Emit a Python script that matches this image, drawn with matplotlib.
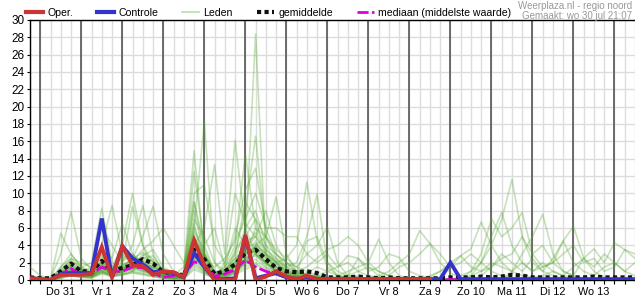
import numpy as np
import matplotlib
matplotlib.use('Agg')
import matplotlib.pyplot as plt
from matplotlib.lines import Line2D

plt.rcParams['font.family'] = ['Liberation Sans', 'DejaVu Sans']

# 6-hourly steps, first point is Wo 30 18:00, day 0 = Do 31 00:00
n_steps = 60
step_days = 0.25
start_day = -0.25

day_labels = ["Do 31", "Vr 1", "Za 2", "Zo 3", "Ma 4", "Di 5", "Wo 6",
              "Do 7", "Vr 8", "Za 9", "Zo 10", "Ma 11", "Di 12", "Wo 13"]

# operational run (ends earlier than the ensemble)
oper = [0.2, 0.1, 0.0, 0.6, 0.6, 0.6, 0.7, 3.8, 0.3, 3.9,
        1.7, 1.6, 0.6, 1.0, 0.9, 0.3, 4.6, 1.7, 0.0, 0.0,
        0.0, 5.2, 0.0, 0.4, 1.0, 0.4, 0.1, 0.5, 0.1, 0.1,
        0.1, 0.1, 0.1, 0.1, 0.1, 0.1, 0.1, 0.1, 0.1, 0.1]

controle = [0.2, 0.1, 0.0, 0.7, 0.8, 0.8, 0.8, 7.1, 0.3, 3.9,
            2.5, 1.8, 0.9, 1.0, 0.8, 0.3, 3.1, 1.5, 0.1, 0.1,
            0.2, 5.0, 0.2, 0.5, 0.8, 0.3, 0.1, 0.3, 0.1, 0.1,
            0.1, 0.1, 0.1, 0.1, 0.1, 0.1, 0.1, 0.1, 0.1, 0.1,
            0.1, 2.0, 0.1, 0.1, 0.1, 0.1, 0.1, 0.1, 0.1, 0.1,
            0.1, 0.1, 0.1, 0.1, 0.1, 0.1, 0.1, 0.1, 0.1, 0.1]

gemiddelde = [0.3, 0.2, 0.2, 1.0, 1.9, 1.0, 1.0, 2.2, 1.0, 1.4,
              1.7, 2.4, 1.9, 0.9, 0.8, 0.5, 3.5, 2.4, 0.7, 1.0,
              1.8, 3.1, 3.5, 2.4, 1.4, 1.0, 0.9, 1.0, 0.8, 0.3,
              0.3, 0.3, 0.4, 0.3, 0.2, 0.3, 0.2, 0.2, 0.2, 0.2,
              0.2, 0.3, 0.3, 0.3, 0.4, 0.3, 0.4, 0.6, 0.5, 0.3,
              0.3, 0.3, 0.3, 0.3, 0.3, 0.4, 0.3, 0.3, 0.3, 0.3]

mediaan = [0.1, 0.0, 0.0, 0.65, 1.3, 0.6, 0.7, 1.5, 1.0, 1.0,
           1.5, 1.4, 0.8, 0.3, 0.5, 0.6, 2.1, 1.8, 0.4, 0.7,
           1.2, 2.3, 1.5, 1.0, 0.7, 0.3, 0.2, 0.3, 0.1, 0.05,
           0.05, 0.05, 0.05, 0.05, 0.05, 0.05, 0.05, 0.05, 0.05, 0.05,
           0.05, 0.05, 0.05, 0.05, 0.05, 0.05, 0.05, 0.05, 0.05, 0.05,
           0.05, 0.05, 0.05, 0.05, 0.05, 0.05, 0.05, 0.05, 0.05, 0.05]

# ensemble members (Leden), read off roughly
leden = [
    [0.0,0.0,0.0,0.4,1.2,0.5,0.3,1.5,0.8,1.2, 2.0,1.5,0.6,0.3,0.2,0.1,2.5,1.0,0.3,0.8,
     2.0,4.5,28.4,3.0,1.0,0.5,0.2,0.4,0.1,0.0, 0.0,0.0,0.1,0.0,0.0,0.0,0.0,0.0,0.0,0.0,
     0.0,0.0,0.0,0.0,0.1,0.0,0.0,0.0,0.0,0.0, 0.0,0.0,0.0,0.0,0.0,0.0,0.0,0.0,0.0,0.0],
    [0.1,0.0,0.0,0.8,2.0,1.0,0.5,2.5,1.2,0.8, 1.5,3.0,2.0,0.5,0.3,0.5,6.0,18.3,2.0,0.5,
     1.0,2.5,3.5,2.0,1.0,0.5,0.3,0.5,0.2,0.1, 0.0,0.2,0.5,0.0,0.0,0.0,0.0,0.0,0.0,0.0,
     0.0,0.0,0.3,0.0,0.0,0.0,0.0,0.0,0.2,0.0, 0.0,0.0,0.0,0.0,0.0,0.0,0.0,0.0,0.0,0.0],
    [0.3,0.1,0.0,1.5,3.0,1.5,0.8,1.8,0.5,1.0, 1.8,2.0,1.0,0.4,0.2,1.0,14.9,3.0,0.5,0.3,
     0.8,2.0,4.0,3.0,1.5,1.0,0.5,0.3,0.2,0.0, 0.0,0.0,0.0,0.0,0.0,0.0,0.0,0.0,0.0,0.0,
     0.0,0.0,0.0,0.0,0.0,0.0,0.0,0.0,0.0,0.0, 0.0,0.0,0.0,0.0,0.0,0.0,0.0,0.0,0.0,0.0],
    [0.0,0.0,0.1,0.5,1.0,0.8,1.0,2.0,1.5,2.5, 3.0,1.5,0.8,0.5,0.5,0.8,4.0,6.0,13.3,3.0,
     16.1,6.0,3.0,2.0,1.5,0.8,0.5,0.3,0.2,0.0, 0.0,0.0,0.0,0.0,0.2,0.0,0.0,0.0,0.0,0.0,
     0.0,0.0,0.0,0.0,0.0,0.0,0.0,0.0,0.0,0.0, 0.0,0.0,0.0,0.0,0.0,0.0,0.0,0.0,0.0,0.0],
    [0.2,0.0,0.0,0.3,0.8,0.4,0.6,1.2,1.0,1.5, 1.2,2.5,2.8,1.0,0.6,0.3,3.0,2.0,0.5,1.5,
     4.0,14.6,6.0,4.0,2.0,1.0,0.6,0.8,0.3,0.1, 0.0,0.0,0.0,0.0,0.0,0.0,0.0,0.0,0.0,0.0,
     0.0,0.0,0.0,0.0,0.0,0.0,0.0,0.0,0.0,0.0, 0.0,0.0,0.0,0.0,0.0,0.0,0.0,0.0,0.0,0.0],
    [0.0,0.0,0.0,0.6,1.5,0.6,0.4,2.8,0.6,1.8, 2.2,1.8,1.5,0.8,0.4,0.6,12.5,4.0,1.0,0.6,
     3.0,8.0,16.6,5.0,2.5,1.2,0.8,0.5,0.3,0.1, 0.0,0.0,0.0,0.0,0.0,0.0,0.0,0.0,0.0,0.0,
     0.0,0.0,0.0,0.0,0.0,0.0,0.0,0.0,0.0,0.0, 0.0,0.0,0.0,0.0,0.0,0.0,0.0,0.0,0.0,0.0],
    [0.1,0.0,0.0,1.0,2.5,1.2,0.8,1.0,0.4,0.6, 1.0,2.8,3.5,1.5,0.8,0.4,8.0,2.5,0.3,2.0,
     5.0,10.4,12.9,6.0,3.0,2.0,1.0,0.6,0.4,0.2, 0.0,0.0,0.0,0.0,0.0,0.0,0.0,0.0,0.0,0.0,
     0.0,0.0,0.0,0.0,0.0,0.0,0.0,0.0,0.0,0.0, 0.0,0.0,0.0,0.0,0.0,0.0,0.0,0.0,0.0,0.0],
    [0.0,0.0,0.0,0.5,1.0,0.5,0.8,3.0,1.5,4.0, 10.0,4.0,1.0,0.5,0.3,0.2,5.0,3.0,1.0,1.0,
     2.0,3.0,6.0,5.0,9.6,3.0,1.0,0.5,0.3,0.1, 0.0,0.0,0.0,0.0,0.0,0.0,0.0,0.0,0.0,0.0,
     0.0,0.0,0.0,0.0,0.0,0.0,0.0,0.0,0.0,0.0, 0.0,0.0,0.0,0.0,0.0,0.0,0.0,0.0,0.0,0.0],
    [0.2,0.1,0.0,0.8,1.8,0.8,0.5,1.5,0.8,2.0, 4.0,8.6,3.0,1.0,0.5,0.3,6.5,2.0,0.5,0.8,
     1.5,3.5,5.0,3.0,2.0,2.5,4.0,11.3,4.5,1.5, 0.5,0.3,0.2,0.0,0.0,0.0,0.0,0.0,0.0,0.0,
     0.0,0.0,0.0,0.0,0.0,0.0,0.0,0.0,0.0,0.0, 0.0,0.0,0.0,0.0,0.0,0.0,0.0,0.0,0.0,0.0],
    [0.0,0.0,0.0,0.4,1.5,1.0,0.8,2.0,1.0,1.5, 2.5,5.0,8.5,3.0,1.0,0.5,9.0,3.0,0.8,0.5,
     1.0,2.0,4.0,5.0,3.0,1.5,2.0,5.0,9.9,2.0, 0.5,0.2,0.0,0.0,0.0,0.0,0.0,0.0,0.0,0.0,
     0.0,0.0,0.0,0.0,0.0,0.0,0.0,0.0,0.0,0.0, 0.0,0.0,0.0,0.0,0.0,0.0,0.0,0.0,0.0,0.0],
    [1.5,0.5,0.2,3.0,7.9,2.5,1.2,2.0,0.8,1.0, 1.5,1.0,0.8,0.5,0.3,0.6,7.0,5.0,2.0,1.0,
     2.5,6.0,8.0,4.0,3.0,2.0,1.5,3.0,4.0,6.1, 2.0,0.5,0.2,0.0,0.0,0.0,0.0,0.0,0.0,0.0,
     0.0,0.0,0.0,0.0,0.0,0.0,0.0,0.0,0.0,0.0, 0.0,0.0,0.0,0.0,0.0,0.0,0.0,0.0,0.0,0.0],
    [0.4,0.2,0.0,1.2,2.2,1.5,2.0,8.3,2.0,1.5, 1.0,2.0,1.5,0.8,0.5,0.8,5.5,3.5,1.0,0.8,
     3.5,5.0,7.0,3.0,2.0,1.0,0.5,0.3,0.5,0.2, 0.5,1.0,1.5,2.0,4.7,2.0,0.5,0.2,0.0,0.0,
     0.0,0.0,0.0,0.0,0.0,0.0,0.0,0.0,0.0,0.0, 0.0,0.0,0.0,0.0,0.0,0.0,0.0,0.0,0.0,0.0],
    [0.0,0.0,0.0,0.6,1.2,0.8,1.5,4.0,8.6,3.0, 2.0,1.5,1.0,0.6,0.3,0.5,4.0,2.0,0.5,1.5,
     6.0,4.0,3.0,2.0,1.0,0.5,0.3,0.2,0.1,0.0, 0.0,0.0,0.0,0.2,0.5,1.0,2.0,3.0,5.7,4.2,
     2.0,0.8,0.3,0.0,0.0,0.0,0.0,0.0,0.0,0.0, 0.0,0.0,0.0,0.0,0.0,0.0,0.0,0.0,0.0,0.0],
    [0.1,0.0,0.0,0.3,0.6,0.4,0.3,1.0,0.6,0.8, 1.2,1.0,0.6,0.3,0.2,0.2,2.0,1.0,0.3,0.4,
     1.0,2.0,3.0,1.5,1.0,0.5,0.3,0.2,0.1,0.0, 0.0,0.0,0.0,0.0,0.0,0.0,0.0,0.0,0.0,0.0,
     0.0,0.0,0.5,1.0,2.0,4.0,7.0,11.6,5.0,2.0, 1.0,0.5,0.2,0.0,0.0,0.0,0.0,0.0,0.0,0.0],
    [0.0,0.0,0.0,0.5,0.8,0.6,0.5,1.2,0.8,1.0, 1.5,1.2,0.8,0.4,0.3,0.3,3.0,1.5,0.5,0.6,
     1.5,3.0,4.0,2.0,1.2,0.6,0.4,0.3,0.2,0.1, 0.0,0.0,0.0,0.0,0.0,0.0,0.0,0.0,0.0,0.5,
     1.0,1.5,2.8,3.6,6.7,4.0,2.0,1.0,3.0,5.0, 7.6,3.0,1.0,0.5,0.2,0.0,0.0,0.0,0.0,0.0],
    [0.2,0.0,0.0,0.7,1.4,0.7,0.6,1.6,1.2,2.2, 2.8,2.2,1.2,0.6,0.4,0.4,4.5,2.5,0.6,1.2,
     2.5,3.5,5.5,3.5,2.0,1.2,0.7,0.5,0.3,0.1, 0.0,0.0,0.0,0.0,0.0,0.0,0.0,0.0,0.0,0.0,
     0.0,0.0,0.0,1.0,3.0,7.1,5.0,6.0,7.8,3.0, 1.5,2.0,4.5,6.2,2.5,1.0,0.3,0.0,0.0,0.0],
    [0.0,0.0,0.0,0.2,0.5,0.3,0.2,0.8,0.5,0.6, 0.8,0.6,0.4,0.2,0.1,0.1,1.5,0.8,0.2,0.3,
     0.8,1.5,2.0,1.2,0.8,0.4,0.2,0.1,0.0,0.0, 0.0,0.0,0.0,0.0,0.0,0.0,0.0,0.0,0.0,0.0,
     0.0,0.0,0.0,0.5,2.0,5.0,7.8,4.0,2.0,1.0, 2.0,1.0,0.5,1.5,2.5,3.6,2.0,4.3,3.5,2.5],
    [0.0,0.0,0.0,0.4,0.9,0.6,0.4,1.0,0.7,1.2, 1.8,1.4,0.9,0.5,0.2,0.3,3.5,2.0,0.4,0.7,
     1.8,2.8,3.5,2.5,1.5,0.8,0.5,0.8,1.5,1.0, 1.5,2.8,2.5,1.0,1.5,3.0,2.6,1.0,0.5,0.3,
     1.0,2.0,2.8,1.5,1.0,2.0,1.5,1.0,0.5,0.3, 0.5,1.0,0.5,0.3,0.2,0.0,0.0,0.0,0.0,0.0],
    [0.1,0.0,0.0,0.9,2.0,1.2,0.9,1.8,1.0,1.6, 2.2,3.5,4.5,6.0,4.0,2.0,5.0,2.5,0.8,1.0,
     2.0,4.5,5.0,3.5,2.5,1.5,0.8,0.6,0.4,0.2, 0.0,0.0,0.0,0.0,0.0,0.0,0.0,0.0,0.0,0.0,
     0.0,0.0,0.0,0.0,0.0,0.0,0.0,0.0,0.0,0.0, 0.0,0.0,0.0,0.0,0.0,0.0,0.0,0.0,0.0,0.0],
    [0.5,0.2,0.1,5.4,3.0,1.5,1.0,3.5,2.5,6.5, 3.0,2.0,1.5,1.0,0.6,0.5,3.5,2.0,0.5,0.5,
     1.2,2.5,3.0,2.0,1.0,0.6,0.4,0.3,0.2,0.1, 0.3,0.5,0.3,0.1,0.0,0.0,0.0,0.0,0.0,0.0,
     0.0,0.0,0.0,0.0,0.0,0.0,0.0,0.0,0.0,0.0, 0.0,0.0,0.0,0.0,0.0,0.0,0.0,0.0,0.0,0.0],
    [0.0,0.0,0.0,0.3,0.7,0.5,0.4,0.9,0.6,0.9, 1.4,1.1,0.7,0.4,0.3,0.3,2.5,1.2,0.4,0.5,
     1.2,2.2,2.8,1.8,1.0,0.5,0.3,0.2,0.1,0.0, 0.0,0.0,0.0,0.0,0.0,0.0,0.0,0.0,0.0,0.0,
     0.0,0.0,0.0,0.0,0.5,1.5,3.0,2.0,1.0,2.5, 1.0,2.5,4.5,2.0,1.0,0.5,1.5,2.0,1.0,0.5],
    [0.0,0.0,0.0,1.5,2.5,2.0,1.5,6.0,4.0,2.0, 8.5,4.0,2.0,1.0,0.5,0.4,6.0,3.0,0.8,0.6,
     1.0,3.0,4.5,2.5,1.5,0.8,0.4,0.3,0.2,0.1, 0.0,0.0,0.0,0.0,0.0,0.0,0.0,0.0,0.0,0.0,
     0.0,0.0,0.0,0.0,0.0,0.0,0.0,0.0,0.0,0.0, 0.0,0.0,0.0,0.0,0.0,0.0,0.0,0.0,0.0,0.0],
    [0.2,0.1,0.0,0.6,1.3,0.9,0.7,1.4,0.9,1.3, 1.9,2.4,1.8,0.9,0.5,1.5,10.0,11.0,4.0,2.0,
     10.0,6.5,5.0,8.0,4.0,2.0,1.0,0.5,0.3,0.1, 0.0,0.0,0.0,0.0,0.0,0.0,0.0,0.0,0.0,0.0,
     0.0,0.0,0.0,0.0,0.0,0.0,0.0,0.0,0.0,0.0, 0.0,0.0,0.0,0.0,0.0,0.0,0.0,0.0,0.0,0.0],
    [0.0,0.0,0.0,0.5,1.1,0.7,0.5,1.3,0.7,1.1, 1.6,1.9,1.3,0.7,0.4,0.5,4.0,2.5,1.5,2.5,
     4.5,7.0,10.0,6.0,6.0,5.0,5.0,3.0,2.0,3.0, 1.5,2.0,1.0,0.5,0.3,0.0,0.0,0.0,0.0,0.0,
     0.0,0.0,0.0,0.0,0.0,0.0,0.0,0.0,0.0,0.0, 0.0,0.0,0.0,0.0,0.0,0.0,0.0,0.0,0.0,0.0],
    [0.1,0.0,0.0,0.7,1.6,0.9,0.7,2.2,1.1,1.7, 2.4,3.2,2.4,1.2,0.6,0.8,9.0,4.0,6.0,1.5,
     3.0,9.0,7.0,5.0,3.5,2.5,1.5,1.0,0.5,0.2, 0.0,0.0,0.0,0.0,0.0,0.0,0.0,0.0,0.0,0.0,
     0.0,0.0,0.0,0.0,0.0,0.0,0.0,0.0,0.0,0.0, 0.0,0.0,0.0,0.0,0.0,0.0,0.0,0.0,0.0,0.0],
    [0.0,0.0,0.0,0.3,0.6,0.4,0.3,0.9,0.5,0.7, 1.0,0.8,0.5,0.3,0.2,0.2,1.8,0.9,0.3,0.4,
     0.9,1.8,2.4,1.4,0.9,0.5,0.3,0.3,0.5,1.0, 0.5,0.0,0.0,0.0,0.0,0.0,0.0,0.0,0.0,0.0,
     0.0,0.0,0.0,0.5,1.0,1.5,2.5,3.0,5.0,3.0, 4.0,2.0,1.0,0.5,2.5,1.5,3.0,2.0,1.0,2.0],
    [0.0,0.0,0.0,0.4,0.8,0.5,0.5,1.1,0.6,1.0, 1.5,1.3,0.8,0.4,0.2,0.3,2.8,1.5,0.4,0.6,
     1.5,2.5,3.2,2.0,1.2,0.7,0.4,0.2,0.1,0.0, 0.0,0.5,1.0,1.5,1.0,0.5,1.5,2.0,3.0,4.2,
     3.0,1.5,2.0,3.0,2.0,1.0,0.5,0.3,0.0,0.0, 0.0,0.0,0.0,0.0,0.0,0.0,0.0,0.0,0.0,0.0],
    [0.0,0.0,0.0,0.2,0.5,0.3,0.3,0.7,0.4,0.6, 0.9,0.7,0.4,0.2,0.1,0.2,1.2,0.7,0.2,0.3,
     0.7,1.2,1.8,1.0,0.6,0.3,0.2,0.1,0.0,0.0, 0.0,0.0,0.0,0.0,0.0,0.0,0.0,0.0,0.0,0.0,
     0.0,0.0,0.0,0.0,0.0,0.0,0.0,1.0,2.0,1.0, 1.5,2.0,3.0,4.0,2.0,2.5,1.0,1.5,3.5,3.0],
    [0.3,0.1,0.0,0.8,1.7,1.1,0.6,1.7,1.3,1.4, 2.0,2.6,2.2,1.1,0.7,0.6,4.5,3.0,0.8,1.0,
     2.2,3.8,4.2,3.0,2.2,1.5,1.0,1.5,2.5,3.5, 4.0,5.0,4.0,2.0,1.0,0.5,0.2,0.0,0.0,0.0,
     0.0,0.0,0.0,0.0,0.0,0.0,0.0,0.0,0.0,0.0, 0.0,0.0,0.0,0.0,0.0,0.0,0.0,0.0,0.0,0.0],
    [0.0,0.0,0.0,0.6,1.2,0.7,0.6,1.3,0.9,1.2, 1.7,1.6,1.0,0.5,0.3,0.4,3.2,1.8,0.5,0.7,
     1.7,3.0,3.8,2.7,1.8,1.0,0.7,4.5,5.0,2.0, 1.0,0.5,2.5,1.5,0.5,0.2,0.0,0.0,0.0,0.0,
     0.0,0.0,0.0,0.0,0.0,0.0,0.0,0.0,0.0,0.0, 0.0,0.0,0.0,0.0,0.0,0.0,0.0,0.0,0.0,0.0],
]

x_all = start_day + step_days * np.arange(n_steps)

fig = plt.figure(figsize=(6.35, 3.0), dpi=100)
ax = fig.add_axes([30 / 635, 20 / 300, 605 / 635, 260 / 300])

# members
for m in leden:
    ax.plot(x_all, m, color=(0.33, 0.66, 0.18), alpha=0.33, lw=1.2, zorder=3)

ax.plot(x_all, gemiddelde, color='#111111', lw=3.0, dashes=(1, 0.8), zorder=5)
ax.plot(x_all, mediaan, color='#dd00dd', lw=2.0, dashes=(4, 1.2), zorder=6)
ax.plot(x_all, controle, color='#3333cc', lw=2.8, zorder=7, solid_joinstyle='miter')
ax.plot(x_all[:len(oper)], oper, color='#cc3333', lw=2.8, zorder=8, solid_joinstyle='miter')

# axes ranges and grid
ax.set_xlim(start_day, start_day + step_days * (n_steps - 1))
ax.set_ylim(0, 30)
ax.set_yticks(np.arange(0, 31, 2))
ax.set_xticks(x_all)
ax.set_xticklabels([])
ax.grid(True, color='#dcdcdc', lw=1.0, zorder=0)
ax.set_axisbelow(True)
for d in range(0, 15):
    ax.axvline(d, color='#555555', lw=1.2, zorder=1)

# day names sit between the day lines; keep them even where they hit a 6h tick
ax.xaxis.remove_overlapping_locs = False
ax.set_xticks(np.arange(len(day_labels)) + 0.5, minor=True)
ax.set_xticklabels(day_labels, minor=True)
ax.tick_params(axis='x', which='major', length=3, width=0.8, color='black')
ax.tick_params(axis='x', which='minor', length=0, pad=5, labelsize=7.8)
ax.tick_params(axis='y', length=2, width=0.8, pad=2, labelsize=8.5)
ax.spines['right'].set_visible(False)
for s in ['left', 'bottom', 'top']:
    ax.spines[s].set_linewidth(1.0)
    ax.spines[s].set_color('black')

# legend on top
handles = [
    Line2D([], [], color='#cc3333', lw=3),
    Line2D([], [], color='#3333cc', lw=3),
    Line2D([], [], color=(0.33, 0.66, 0.18), alpha=0.4, lw=1.2),
    Line2D([], [], color='#111111', lw=3, dashes=(1, 0.8)),
    Line2D([], [], color='#dd00dd', lw=2, dashes=(4, 1.2)),
]
labels = ['Oper.', 'Controle', 'Leden', 'gemiddelde', 'mediaan (middelste waarde)']
fig.legend(handles, labels, loc='center left', bbox_to_anchor=(26 / 635, 1 - 13 / 300),
           ncol=5, frameon=False, fontsize=7.6, handlelength=1.6, handletextpad=0.4,
           columnspacing=2.3, borderpad=0, borderaxespad=0)

fig.text(632 / 635, 1 - 6 / 300, 'Weerplaza.nl - regio noord', ha='right', va='center',
         fontsize=7, color='#999999')
fig.text(632 / 635, 1 - 16 / 300, 'Gemaakt: wo 30 jul 21:07', ha='right', va='center',
         fontsize=7, color='#999999')

fig.savefig('out.png', dpi=100)
